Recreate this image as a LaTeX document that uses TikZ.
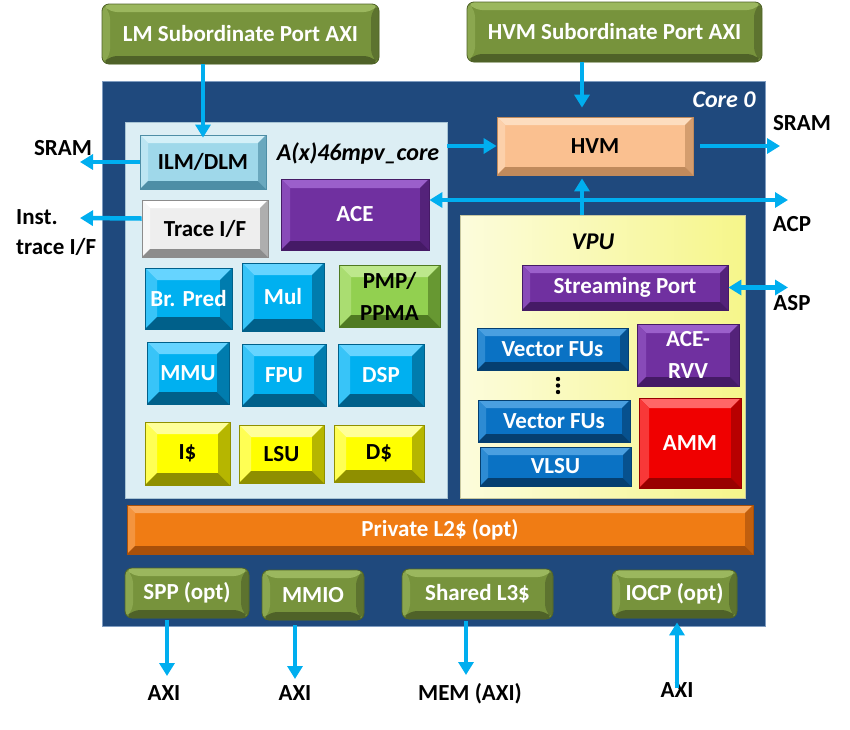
\documentclass[tikz,border=0pt]{standalone}
\usepackage{fontspec}
\setmainfont{Carlito}
\usetikzlibrary{arrows.meta}
\definecolor{coreblue}{HTML}{1F497D}
\definecolor{coreedge}{HTML}{7F9CC0}
\definecolor{panelblue}{HTML}{DCEEF4}
\definecolor{paneledge}{HTML}{A8C4D4}
\definecolor{vpuL}{HTML}{FCFCDC}
\definecolor{vpuR}{HTML}{F6F68A}
\definecolor{vpuedge}{HTML}{C8C8A0}
\definecolor{arrowc}{HTML}{00AEEF}
\definecolor{grF}{HTML}{77933C}\definecolor{grL}{HTML}{9BB75E}\definecolor{grD}{HTML}{4F6228}
\definecolor{ilF}{HTML}{9FD8EA}\definecolor{ilL}{HTML}{D4F0F8}\definecolor{ilD}{HTML}{4E8EA6}
\definecolor{trF}{HTML}{EEEEEE}\definecolor{trL}{HTML}{FFFFFF}\definecolor{trD}{HTML}{8C8C8C}
\definecolor{puF}{HTML}{7030A0}\definecolor{puL}{HTML}{9B5FCB}\definecolor{puD}{HTML}{451A66}
\definecolor{hvF}{HTML}{FAC090}\definecolor{hvL}{HTML}{FDDDBF}\definecolor{hvD}{HTML}{C08A5C}
\definecolor{cyF}{HTML}{00B0F0}\definecolor{cyL}{HTML}{66D4FF}\definecolor{cyD}{HTML}{00608A}
\definecolor{pmF}{HTML}{92D050}\definecolor{pmL}{HTML}{BDE88C}\definecolor{pmD}{HTML}{4F7A22}
\definecolor{yeF}{HTML}{FFFF00}\definecolor{yeL}{HTML}{FFFF99}\definecolor{yeD}{HTML}{8F8F00}
\definecolor{vbF}{HTML}{0A72C4}\definecolor{vbL}{HTML}{4A9FE0}\definecolor{vbD}{HTML}{053F70}
\definecolor{reF}{HTML}{F00000}\definecolor{reL}{HTML}{FF6666}\definecolor{reD}{HTML}{990000}
\definecolor{orF}{HTML}{F07C14}\definecolor{orL}{HTML}{F8A860}\definecolor{orD}{HTML}{A8500A}
\tikzset{
  bw/.code={\def\bvw{#1}},
  bw=8pt,
  bevel/.style n args={3}{fill=#1, draw=#3, line width=0.8pt, path picture={
    \path (path picture bounding box.north west) coordinate (pnw)
          (path picture bounding box.north east) coordinate (pne)
          (path picture bounding box.south west) coordinate (psw)
          (path picture bounding box.south east) coordinate (pse);
    \fill[#2] (pnw) -- (pne) -- ([shift={(-\bvw,-\bvw)}]pne) -- ([shift={(\bvw,-\bvw)}]pnw) -- cycle;
    \fill[#2!55!#1] (pnw) -- ([shift={(\bvw,-\bvw)}]pnw) -- ([shift={(\bvw,\bvw)}]psw) -- (psw) -- cycle;
    \fill[#3!65!#1] (pne) -- ([shift={(-\bvw,-\bvw)}]pne) -- ([shift={(-\bvw,\bvw)}]pse) -- (pse) -- cycle;
    \fill[#3] (psw) -- ([shift={(\bvw,\bvw)}]psw) -- ([shift={(-\bvw,\bvw)}]pse) -- (pse) -- cycle;
  }},
  blk/.style={rectangle, inner sep=0pt, align=center},
  greenbox/.style={blk, rounded corners=7pt, bevel={grF}{grL}{grD}, text=white},
  cyanbox/.style={blk, bevel={cyF}{cyL}{cyD}, bw=12pt, text=white},
  yelbox/.style={blk, bevel={yeF}{yeL}{yeD}, bw=12pt, text=black},
  vbox/.style={blk, bevel={vbF}{vbL}{vbD}, bw=8pt, text=white},
  purbox/.style={blk, bevel={puF}{puL}{puD}, bw=9pt, text=white},
  arr/.style={draw=arrowc, line width=4.5pt, -{Triangle[length=13pt,width=15pt]}},
  darr/.style={draw=arrowc, line width=4.5pt, {Triangle[length=13pt,width=15pt]}-{Triangle[length=13pt,width=15pt]}},
  lbl/.style={inner sep=0pt, text=black},
  tall/.style={font=\fontsize{23}{32}\selectfont\bfseries},
}
\begin{document}
\begin{tikzpicture}[x=1pt,y=-1pt, font=\fontsize{23}{30}\selectfont\bfseries]
\useasboundingbox (0,0) rectangle (850,729);

% containers
\node[rectangle, fill=coreblue, draw=coreedge, line width=1pt, minimum width=663pt, minimum height=545pt] (core) at (433.5,353.5) {};
\node[rectangle, fill=panelblue, draw=paneledge, line width=0.8pt, minimum width=322pt, minimum height=376pt] (panel) at (286,310) {};
\node[rectangle, left color=vpuL, right color=vpuR, draw=vpuedge, line width=0.8pt, minimum width=285pt, minimum height=283pt] (vpu) at (602.5,356.5) {};

% labels of containers
\node[lbl, text=white, font=\fontsize{24}{28}\selectfont\bfseries\itshape] (corelbl) at (724,100) {Core 0};
\node[lbl, font=\fontsize{24}{28}\selectfont\bfseries\itshape] (axlbl) at (358,153) {A(x)46mpv\_core};
\node[lbl, font=\fontsize{24}{28}\selectfont\bfseries\itshape] (vpulbl) at (593,242) {VPU};

% top ports
\node[greenbox, minimum width=277pt, minimum height=60pt] (lmport) at (240.5,34) {LM Subordinate Port AXI};
\node[greenbox, minimum width=295pt, minimum height=60pt] (hvmport) at (614.5,32) {HVM Subordinate Port AXI};

% core blocks
\node[blk, bevel={ilF}{ilL}{ilD}, minimum width=126pt, minimum height=54pt] (ilm) at (203,162) {ILM/DLM};
\node[blk, bevel={trF}{trL}{trD}, minimum width=126pt, minimum height=57pt] (trace) at (205,228.5) {Trace I/F};
\node[purbox, minimum width=148pt, minimum height=71pt] (ace) at (355,214.5) {ACE};
\node[blk, bevel={hvF}{hvL}{hvD}, minimum width=196pt, minimum height=58pt] (hvm) at (595,146) {HVM};

\node[cyanbox, minimum width=87pt, minimum height=61pt] (brpred) at (188.5,298.5) {Br. Pred};
\node[cyanbox, minimum width=82pt, minimum height=68pt] (mul) at (283,297) {Mul};
\node[blk, tall, bevel={pmF}{pmL}{pmD}, bw=12pt, minimum width=101pt, minimum height=62pt] (pmp) at (389.5,296) {PMP/\\PPMA};
\node[cyanbox, minimum width=82pt, minimum height=62pt] (mmu) at (188,373) {MMU};
\node[cyanbox, minimum width=84pt, minimum height=62pt] (fpu) at (284,375) {FPU};
\node[cyanbox, minimum width=86pt, minimum height=62pt] (dsp) at (381,375) {DSP};
\node[yelbox, minimum width=85pt, minimum height=63pt] (icache) at (187.5,453.5) {I\$};
\node[yelbox, minimum width=85pt, minimum height=58pt] (lsu) at (281.5,454) {LSU};
\node[yelbox, minimum width=90pt, minimum height=57pt] (dcache) at (379,453.5) {D\$};

% VPU blocks
\node[purbox, bw=8pt, minimum width=206pt, minimum height=45pt] (sport) at (625,287.5) {Streaming Port};
\node[vbox, minimum width=151pt, minimum height=42pt] (vfu1) at (552.5,349) {Vector FUs};
\node[vbox, minimum width=152pt, minimum height=42pt] (vfu2) at (554,421) {Vector FUs};
\node[vbox, minimum width=151pt, minimum height=39pt] (vlsu) at (555.5,466.5) {VLSU};
\node[purbox, tall, minimum width=102pt, minimum height=62pt] (acervv) at (688,355) {ACE-\\RVV};
\node[blk, bevel={reF}{reL}{reD}, bw=10pt, text=white, minimum width=102pt, minimum height=90pt] (amm) at (690,443) {AMM};
\foreach \yy in {379,385.5,392} \fill[black] (558,\yy) circle (2.2pt);

% L2 and bottom ports
\node[blk, bevel={orF}{orL}{orD}, text=white, minimum width=626pt, minimum height=49pt] (l2) at (440,529.5) {Private L2\$ (opt)};
\node[greenbox, minimum width=124pt, minimum height=50pt] (spp) at (187,593) {SPP (opt)};
\node[greenbox, minimum width=102pt, minimum height=50pt] (mmio) at (313,595) {MMIO};
\node[greenbox, minimum width=151pt, minimum height=50pt] (l3) at (477.5,594) {Shared L3\$};
\node[greenbox, minimum width=125pt, minimum height=48pt] (iocp) at (674.5,594) {IOCP (opt)};

% outside labels
\node[lbl] (sramL) at (63,148) {SRAM};
\node[lbl, align=left, anchor=west] (inst) at (16,233) {Inst.\\trace I/F};
\node[lbl] (sramR) at (802,123) {SRAM};
\node[lbl] (acp) at (792,224) {ACP};
\node[lbl] (asp) at (792,303) {ASP};
\node[lbl] (axi1) at (164,693) {AXI};
\node[lbl] (axi2) at (295,693) {AXI};
\node[lbl] (mem) at (470,694) {MEM (AXI)};
\node[lbl] (axi3) at (677,690) {AXI};

% connector helper coordinates
\coordinate (vx) at (582,0);
\coordinate (acpy) at (0,200);
\coordinate (sramRend) at (780,146);
\coordinate (acpend) at (788,200);
\coordinate (aspend) at (788,287.5);
\coordinate (sramLend) at (80,162);
\coordinate (instend) at (80,218);
\coordinate (sppx) at (167,676);
\coordinate (mmiox) at (295,679);
\coordinate (l3x) at (466,675);
\coordinate (iocpx) at (677,688);

% connectors
\draw[arr] (ilm.north |- lmport.south) -- ([yshift=-3pt]ilm.north);
\draw[arr] (hvmport.south -| vx) -- ([yshift=9pt]hvm.north -| vx);
\draw[arr] (panel.east |- hvm.west) -- (hvm.west);
\draw[arr] ([xshift=7pt]hvm.east) -- (sramRend);
\draw[darr] (ace.east |- acpy) -- (acpend);
\draw[arr] (vpu.north -| vx) -- ([yshift=-3pt]hvm.south -| vx);
\draw[darr] (sport.east) -- (aspend);
\draw[arr] (ilm.west) -- (sramLend);
\draw[arr] ([yshift=10pt]trace.west) -- (instend);
\draw[arr] ([yshift=-2pt]spp.south -| sppx) -- (sppx);
\draw[arr] ([yshift=-5pt]mmio.south -| mmiox) -- (mmiox);
\draw[arr] ([yshift=-2pt]l3.south -| l3x) -- (l3x);
\draw[arr] (iocpx) -- ([yshift=-4pt]iocp.south -| iocpx);
\end{tikzpicture}
\end{document}
